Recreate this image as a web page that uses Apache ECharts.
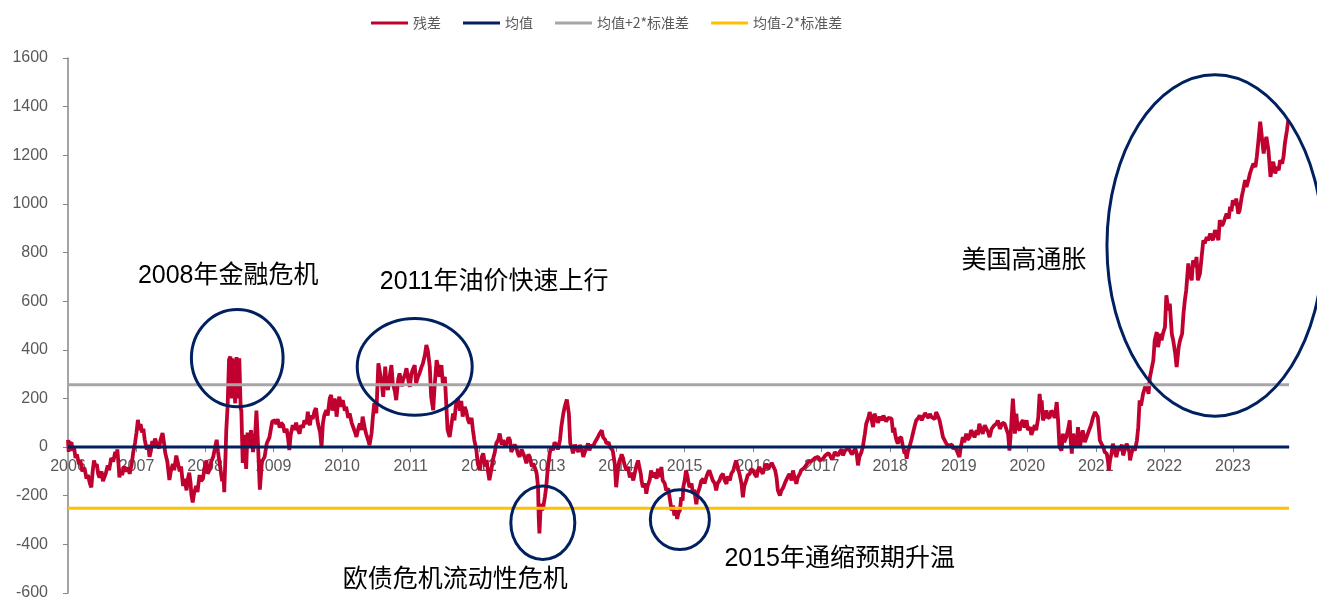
<!DOCTYPE html>
<html>
<head>
<meta charset="utf-8">
<script src="https://cdn.jsdelivr.net/npm/echarts@6/dist/echarts.min.js"></script>
<style>
  html, body { margin: 0; padding: 0; background: #fff; }
  #main { width: 1317px; height: 599px; }
</style>
</head>
<body>
<div id="main"></div>
<script>
// residual series, [decimal year, value]
var resid2006_07 = [
    [2006.00, 30], [2006.01, -20], [2006.02, 25], [2006.03, 10], [2006.05, 20], [2006.07, -15],
    [2006.09, -5], [2006.11, -45], [2006.13, -30], [2006.16, -70], [2006.18, -55], [2006.21, -100],
    [2006.24, -85], [2006.27, -130], [2006.29, -115], [2006.32, -150], [2006.34, -165], [2006.36, -100],
    [2006.38, -55], [2006.40, -80], [2006.42, -70], [2006.44, -110], [2006.46, -125], [2006.49, -100],
    [2006.51, -140], [2006.53, -148], [2006.55, -110], [2006.58, -75], [2006.60, -95], [2006.63, -45],
    [2006.66, -60], [2006.69, -20], [2006.71, -35], [2006.72, -10], [2006.74, -80], [2006.75, -125],
    [2006.77, -95], [2006.79, -115], [2006.82, -80], [2006.85, -100], [2006.88, -85], [2006.90, -110],
    [2006.93, -70], [2006.95, -25], [2006.98, 20], [2007.00, 60], [2007.02, 112], [2007.04, 70],
    [2007.06, 95], [2007.08, 60], [2007.10, 75], [2007.12, 30], [2007.15, -10], [2007.17, 10],
    [2007.19, -40], [2007.21, -15], [2007.23, 25], [2007.25, 5], [2007.27, 35], [2007.30, 10],
    [2007.33, -5], [2007.35, 30], [2007.38, 58], [2007.40, 20], [2007.42, -25], [2007.45, -60],
    [2007.48, -135], [2007.50, -100], [2007.53, -70], [2007.55, -95], [2007.58, -35], [2007.60, -60],
    [2007.63, -100], [2007.65, -80], [2007.68, -160], [2007.70, -130], [2007.73, -178], [2007.75, -130],
    [2007.77, -105], [2007.79, -150], [2007.80, -195], [2007.82, -228], [2007.84, -190], [2007.87, -160],
    [2007.89, -185], [2007.92, -115], [2007.94, -140], [2007.97, -130], [2007.99, -90]
];
var resid2008 = [
    [2008.02, -55], [2008.04, -110], [2008.07, -90], [2008.09, -60], [2008.12, -40], [2008.14, -10],
    [2008.17, 30], [2008.19, -20], [2008.21, -60], [2008.23, -100], [2008.25, -140], [2008.27, -110],
    [2008.28, -185], [2008.30, -25], [2008.31, 70], [2008.33, 170], [2008.35, 360], [2008.37, 372],
    [2008.38, 200], [2008.40, 365], [2008.42, 290], [2008.44, 180], [2008.46, 370], [2008.48, 200],
    [2008.50, 365], [2008.52, 160], [2008.53, 150], [2008.55, -65], [2008.57, 50], [2008.60, -90],
    [2008.62, 60], [2008.65, 0], [2008.67, 70], [2008.70, -20], [2008.73, 40], [2008.75, 150],
    [2008.77, 30], [2008.80, -175], [2008.83, -60], [2008.87, -40], [2008.90, 15], [2008.94, 40],
    [2008.98, 105]
];
var resid2009 = [
    [2009.02, 110], [2009.04, 95], [2009.06, 115], [2009.09, 80], [2009.11, 100], [2009.14, 90],
    [2009.16, 60], [2009.19, 75], [2009.21, 40], [2009.23, -12], [2009.25, 50], [2009.28, 90],
    [2009.30, 70], [2009.33, 100], [2009.35, 75], [2009.38, 55], [2009.40, 90], [2009.43, 80],
    [2009.45, 110], [2009.48, 95], [2009.50, 145], [2009.52, 100], [2009.53, 90], [2009.55, 130],
    [2009.57, 115], [2009.60, 150], [2009.62, 160], [2009.64, 110], [2009.65, 95], [2009.68, 60],
    [2009.70, 0], [2009.72, 97], [2009.74, 130], [2009.77, 152], [2009.79, 130], [2009.82, 200],
    [2009.84, 215], [2009.86, 150], [2009.89, 200], [2009.91, 160], [2009.92, 125], [2009.94, 180],
    [2009.96, 207], [2009.99, 165]
];
var resid2010 = [
    [2010.01, 193], [2010.04, 150], [2010.06, 166], [2010.09, 120], [2010.11, 138], [2010.14, 100],
    [2010.16, 84], [2010.19, 60], [2010.21, 42], [2010.24, 80], [2010.26, 97], [2010.28, 70],
    [2010.30, 125], [2010.33, 80], [2010.35, 56], [2010.38, 30], [2010.40, 8], [2010.43, 56],
    [2010.45, 125], [2010.47, 180], [2010.50, 139], [2010.53, 344], [2010.55, 351], [2010.58, 260],
    [2010.60, 207], [2010.63, 331], [2010.65, 250], [2010.67, 235], [2010.70, 300], [2010.72, 337],
    [2010.74, 262], [2010.77, 230], [2010.79, 193], [2010.82, 280], [2010.84, 303], [2010.87, 250],
    [2010.89, 276], [2010.92, 300], [2010.94, 324], [2010.97, 270], [2010.99, 248]
];
var resid2011 = [
    [2011.01, 300], [2011.03, 317], [2011.06, 337], [2011.08, 262], [2011.11, 290], [2011.13, 303],
    [2011.16, 330], [2011.18, 344], [2011.21, 380], [2011.23, 420], [2011.25, 399], [2011.28, 331],
    [2011.30, 207], [2011.33, 152], [2011.35, 248], [2011.38, 358], [2011.40, 331], [2011.42, 289],
    [2011.45, 337], [2011.47, 262], [2011.50, 289], [2011.52, 180], [2011.54, 70], [2011.57, 42],
    [2011.60, 100], [2011.62, 138], [2011.64, 110], [2011.66, 170], [2011.69, 200], [2011.72, 150],
    [2011.74, 190], [2011.76, 125], [2011.79, 165], [2011.81, 150], [2011.84, 110], [2011.86, 97],
    [2011.89, 120], [2011.91, 70], [2011.93, 29], [2011.96, -12], [2011.98, -67]
];
var resid2012 = [
    [2012.01, -95], [2012.04, -40], [2012.06, -26], [2012.09, -80], [2012.11, -53], [2012.13, -100],
    [2012.15, -136], [2012.18, -90], [2012.20, -53], [2012.23, -20], [2012.25, 15], [2012.28, 30],
    [2012.30, 56], [2012.33, 10], [2012.35, 29], [2012.38, 0], [2012.40, 15], [2012.43, 40],
    [2012.45, 29], [2012.47, -20], [2012.49, -26], [2012.52, 10], [2012.54, 0], [2012.57, -30],
    [2012.59, -40], [2012.62, -10], [2012.64, -13], [2012.67, -45], [2012.69, -67], [2012.72, -30],
    [2012.74, -40], [2012.77, -80], [2012.79, -67], [2012.82, -90], [2012.84, -108], [2012.86, -163],
    [2012.87, -287], [2012.88, -355], [2012.90, -232], [2012.92, -260], [2012.94, -240], [2012.96, -205],
    [2012.98, -163]
];
var resid2013 = [
    [2013.00, -95], [2013.03, -26], [2013.05, 0], [2013.08, -13], [2013.10, 20], [2013.13, 8],
    [2013.15, -10], [2013.18, 29], [2013.20, 84], [2013.23, 140], [2013.25, 166], [2013.28, 196],
    [2013.31, 138], [2013.33, 15], [2013.35, 0], [2013.37, -26], [2013.40, 10], [2013.42, -5],
    [2013.45, -20], [2013.47, 8], [2013.50, -10], [2013.52, -40], [2013.55, -15], [2013.57, 0],
    [2013.59, 15], [2013.61, -13], [2013.64, 10], [2013.66, 0], [2013.69, 20], [2013.71, 29],
    [2013.74, 45], [2013.76, 56], [2013.79, 69], [2013.81, 40], [2013.84, 30], [2013.86, 14],
    [2013.89, 20], [2013.91, 0], [2013.95, -14], [2013.98, -69]
];
var resid2014 = [
    [2014.00, -165], [2014.02, -110], [2014.03, -80], [2014.05, -55], [2014.07, -40], [2014.08, -30],
    [2014.10, -45], [2014.12, -70], [2014.15, -96], [2014.17, -80], [2014.20, -125], [2014.22, -105],
    [2014.25, -137], [2014.27, -110], [2014.29, -82], [2014.32, -55], [2014.34, -85], [2014.36, -110],
    [2014.37, -137], [2014.39, -165], [2014.42, -150], [2014.44, -192], [2014.46, -160], [2014.49, -135],
    [2014.51, -96], [2014.54, -125], [2014.56, -105], [2014.59, -130], [2014.61, -89], [2014.64, -123],
    [2014.66, -82], [2014.68, -137], [2014.71, -150], [2014.73, -178], [2014.76, -170], [2014.78, -206],
    [2014.81, -261], [2014.83, -240], [2014.85, -281], [2014.87, -260], [2014.89, -295], [2014.91, -270],
    [2014.93, -261], [2014.95, -206], [2014.97, -220], [2014.98, -165]
];
var resid2015 = [
    [2015.00, -137], [2015.02, -96], [2015.04, -120], [2015.05, -137], [2015.07, -165], [2015.10, -150],
    [2015.12, -192], [2015.14, -175], [2015.17, -235], [2015.19, -190], [2015.22, -165], [2015.24, -140],
    [2015.27, -130], [2015.29, -150], [2015.32, -120], [2015.34, -105], [2015.36, -96], [2015.39, -120],
    [2015.41, -137], [2015.44, -150], [2015.46, -178], [2015.48, -150], [2015.51, -137], [2015.53, -120],
    [2015.56, -110], [2015.58, -135], [2015.61, -151], [2015.63, -120], [2015.66, -137], [2015.68, -110],
    [2015.71, -96], [2015.73, -75], [2015.75, -55], [2015.78, -90], [2015.80, -110], [2015.83, -150],
    [2015.85, -206], [2015.87, -160], [2015.90, -137], [2015.92, -115], [2015.95, -110], [2015.97, -90]
];
var resid2016 = [
    [2016.00, -96], [2016.02, -110], [2016.05, -123], [2016.07, -95], [2016.09, -82], [2016.12, -100],
    [2016.14, -110], [2016.17, -80], [2016.19, -69], [2016.22, -90], [2016.24, -82], [2016.27, -65],
    [2016.29, -69], [2016.32, -95], [2016.34, -123], [2016.36, -178], [2016.39, -199], [2016.41, -180],
    [2016.44, -165], [2016.46, -150], [2016.48, -137], [2016.51, -120], [2016.53, -110], [2016.56, -137],
    [2016.58, -96], [2016.60, -120], [2016.63, -151], [2016.65, -125], [2016.68, -110], [2016.70, -95],
    [2016.73, -89], [2016.76, -80], [2016.78, -75], [2016.80, -62], [2016.82, -69], [2016.85, -58],
    [2016.87, -55], [2016.90, -45], [2016.92, -48], [2016.95, -40], [2016.97, -55]
];
var resid2017 = [
    [2017.02, -48], [2017.05, -35], [2017.07, -41], [2017.10, -25], [2017.12, -34], [2017.15, -50],
    [2017.17, -41], [2017.19, -20], [2017.21, -27], [2017.24, -35], [2017.26, -21], [2017.29, -10],
    [2017.31, -34], [2017.34, -15], [2017.36, -21], [2017.39, -5], [2017.41, -14], [2017.44, -30],
    [2017.46, -21], [2017.49, -5], [2017.51, -27], [2017.53, -75], [2017.55, -41], [2017.58, -20],
    [2017.60, 0], [2017.63, 55], [2017.65, 96], [2017.68, 120], [2017.70, 144], [2017.73, 110],
    [2017.75, 82], [2017.77, 137], [2017.80, 117], [2017.82, 100], [2017.85, 125], [2017.88, 110],
    [2017.90, 130], [2017.94, 105], [2017.97, 120]
];
var resid2018 = [
    [2018.02, 117], [2018.03, 90], [2018.04, 60], [2018.06, 80], [2018.07, 55], [2018.09, 30],
    [2018.11, 14], [2018.13, 35], [2018.16, 41], [2018.18, 10], [2018.21, -27], [2018.22, -10],
    [2018.24, -48], [2018.26, -15], [2018.28, 0], [2018.31, 30], [2018.33, 55], [2018.36, 90],
    [2018.38, 110], [2018.41, 120], [2018.43, 130], [2018.46, 110], [2018.48, 123], [2018.51, 140],
    [2018.53, 130], [2018.56, 120], [2018.58, 137], [2018.60, 125], [2018.62, 130], [2018.65, 115],
    [2018.67, 144], [2018.70, 125], [2018.72, 110], [2018.75, 70], [2018.77, 41], [2018.80, 25],
    [2018.82, 14], [2018.85, 5], [2018.87, 0], [2018.90, 10], [2018.92, -7], [2018.95, 0],
    [2018.97, -14]
];
var resid2019 = [
    [2019.01, -41], [2019.03, 0], [2019.06, 41], [2019.08, 20], [2019.11, 55], [2019.13, 30],
    [2019.16, 41], [2019.18, 70], [2019.21, 55], [2019.23, 40], [2019.26, 69], [2019.28, 50],
    [2019.30, 96], [2019.33, 69], [2019.35, 55], [2019.38, 90], [2019.40, 82], [2019.43, 60],
    [2019.45, 41], [2019.48, 75], [2019.50, 69], [2019.52, 90], [2019.55, 96], [2019.57, 110],
    [2019.60, 75], [2019.62, 82], [2019.64, 100], [2019.67, 96], [2019.70, 70], [2019.72, 55],
    [2019.74, -14], [2019.76, 60], [2019.77, 110], [2019.79, 199], [2019.81, 120], [2019.82, 55],
    [2019.84, 137], [2019.86, 80], [2019.89, 69], [2019.91, 100], [2019.94, 110], [2019.96, 80],
    [2019.99, 110]
];
var resid2020 = [
    [2020.01, 70], [2020.04, 82], [2020.06, 50], [2020.08, 55], [2020.11, 90], [2020.13, 69],
    [2020.16, 120], [2020.18, 219], [2020.20, 160], [2020.21, 192], [2020.23, 110], [2020.26, 130],
    [2020.28, 151], [2020.30, 120], [2020.33, 123], [2020.35, 150], [2020.38, 137], [2020.40, 120],
    [2020.43, 185], [2020.45, 110], [2020.47, 0], [2020.50, -14], [2020.52, 55], [2020.54, 20],
    [2020.57, 41], [2020.60, 80], [2020.62, 110], [2020.63, 40], [2020.65, -27], [2020.67, 55],
    [2020.70, 20], [2020.72, 0], [2020.74, 82], [2020.76, 30], [2020.77, 0], [2020.79, 40],
    [2020.81, 69], [2020.84, 20], [2020.86, 27], [2020.89, 60], [2020.91, 55], [2020.93, 90],
    [2020.96, 123], [2020.99, 144]
];
var resid2021 = [
    [2021.01, 140], [2021.03, 123], [2021.05, 60], [2021.06, 27], [2021.09, 10], [2021.11, 0],
    [2021.13, -20], [2021.16, -27], [2021.18, -60], [2021.19, -96], [2021.21, -50], [2021.23, -27],
    [2021.25, 14], [2021.28, -20], [2021.30, -41], [2021.33, 0], [2021.35, -14], [2021.38, 10],
    [2021.40, -34], [2021.43, -5], [2021.45, 14], [2021.47, 20], [2021.49, -20], [2021.50, -55],
    [2021.52, -27], [2021.55, 0], [2021.57, -15], [2021.60, 27], [2021.62, 82], [2021.64, 192],
    [2021.66, 170], [2021.69, 219], [2021.72, 247], [2021.74, 260], [2021.77, 219], [2021.79, 288],
    [2021.81, 315], [2021.84, 357], [2021.86, 439], [2021.89, 473], [2021.91, 411], [2021.94, 466],
    [2021.96, 439], [2021.98, 466]
];
var resid2022 = [
    [2022.01, 494], [2022.03, 624], [2022.06, 562], [2022.08, 590], [2022.11, 466], [2022.13, 439],
    [2022.16, 384], [2022.18, 329], [2022.21, 411], [2022.23, 439], [2022.26, 466], [2022.28, 549],
    [2022.30, 604], [2022.32, 645], [2022.35, 755], [2022.37, 713], [2022.40, 686], [2022.42, 768],
    [2022.45, 741], [2022.47, 782], [2022.49, 686], [2022.52, 713], [2022.54, 768], [2022.57, 851],
    [2022.59, 837], [2022.62, 864], [2022.64, 850], [2022.67, 878], [2022.69, 860], [2022.71, 851],
    [2022.74, 892], [2022.76, 878], [2022.79, 851], [2022.81, 933], [2022.84, 910], [2022.86, 919],
    [2022.89, 945], [2022.91, 960], [2022.94, 940], [2022.96, 988], [2022.98, 970]
];
var resid2023 = [
    [2023.00, 1015], [2023.03, 995], [2023.05, 1022], [2023.08, 960], [2023.10, 974], [2023.13, 1029],
    [2023.15, 1056], [2023.18, 1098], [2023.20, 1070], [2023.23, 1100], [2023.25, 1125], [2023.28, 1150],
    [2023.30, 1166], [2023.33, 1152], [2023.35, 1194], [2023.37, 1249], [2023.40, 1338], [2023.42, 1345],
    [2023.45, 1207], [2023.47, 1249], [2023.49, 1276], [2023.52, 1221], [2023.55, 1111], [2023.57, 1152],
    [2023.59, 1173], [2023.62, 1125], [2023.64, 1152], [2023.67, 1138], [2023.69, 1180], [2023.72, 1166],
    [2023.74, 1194], [2023.76, 1249], [2023.79, 1303], [2023.81, 1345]
];

var meanValue = 0;
var upperBand = 256;     // 均值+2*标准差
var lowerBand = -252;    // 均值-2*标准差
var startYear = 2006;
var endYear = 2023.82;
var yMin = -600;
var yMax = 1600;
var yearTicks = [2006, 2007, 2008, 2009, 2010, 2011, 2012, 2013, 2014, 2015, 2016, 2017, 2018, 2019, 2020, 2021, 2022, 2023];
var seriesNames = ['残差', '均值', '均值+2*标准差', '均值-2*标准差'];

// annotations (data coords): ellipse centre + half sizes, and labels
var rings = [
    {x: 2008.47, y: 366, rx: 0.669, ry: 200},
    {x: 2011.06, y: 330, rx: 0.839, ry: 199},
    {x: 2012.93, y: -311, rx: 0.467, ry: 151},
    {x: 2014.93, y: -298, rx: 0.431, ry: 123},
    {x: 2022.74, y: 829, rx: 1.577, ry: 702}
];
var notes = [
    {x: 2007.02, y: 704, text: '2008年金融危机'},
    {x: 2010.55, y: 680, text: '2011年油价快速上行'},
    {x: 2010.01, y: -547, text: '欧债危机流动性危机'},
    {x: 2015.58, y: -461, text: '2015年通缩预期升温'},
    {x: 2019.04, y: 765, text: '美国高通胀'}
];

var residual = [].concat(resid2006_07, resid2008, resid2009, resid2010, resid2011, resid2012,
    resid2013, resid2014, resid2015, resid2016, resid2017, resid2018, resid2019, resid2020,
    resid2021, resid2022, resid2023);

function flat(v) {
    return [[startYear, v], [endYear, v]];
}

var fontMain = '"Liberation Sans", Arial, "Noto Sans CJK SC", sans-serif';

var option = {
    animation: false,
    backgroundColor: '#fff',
    legend: {
        left: 366,
        top: 11,
        icon: 'rect',
        itemWidth: 37,
        itemHeight: 3,
        itemGap: 22,
        textStyle: {color: '#595959', fontSize: 14, fontFamily: '"Noto Sans CJK SC", serif'},
        data: seriesNames
    },
    grid: {left: 68, right: 28, top: 58, bottom: 6, containLabel: false, outerBoundsMode: 'none'},
    xAxis: {
        type: 'value',
        min: startYear,
        max: endYear,
        position: 'bottom',
        offset: 0,
        z: 0,
        axisLine: {onZero: false, lineStyle: {color: '#868686', width: 1.5}},
        axisTick: {show: true, length: 5, customValues: yearTicks, lineStyle: {color: '#868686'}},
        axisLabel: {
            customValues: yearTicks,
            margin: 12,
            color: '#595959',
            fontSize: 16,
            fontFamily: fontMain,
            formatter: function (v) { return String(Math.round(v)); }
        },
        splitLine: {show: false}
    },
    yAxis: {
        type: 'value',
        min: yMin,
        max: yMax,
        interval: 200,
        axisLine: {show: true, onZero: false, lineStyle: {color: '#868686', width: 1.5}},
        axisTick: {show: true, length: 5, lineStyle: {color: '#868686'}},
        axisLabel: {
            color: '#595959', fontSize: 16, fontFamily: fontMain, margin: 20,
            formatter: function (v) { return String(v); }
        },
        splitLine: {show: false}
    },
    series: [
        {
            name: seriesNames[0], type: 'line', data: residual, symbol: 'none', zlevel: 1,
            lineStyle: {color: '#C0002F', width: 3.8}, itemStyle: {color: '#C0002F'}, z: 2
        },
        {
            name: seriesNames[1], type: 'line', data: flat(meanValue), symbol: 'none', zlevel: 1,
            lineStyle: {color: '#002060', width: 3}, itemStyle: {color: '#002060'}, z: 3
        },
        {
            name: seriesNames[2], type: 'line', data: flat(upperBand), symbol: 'none', zlevel: 1,
            lineStyle: {color: '#A6A6A6', width: 3}, itemStyle: {color: '#A6A6A6'}, z: 3
        },
        {
            name: seriesNames[3], type: 'line', data: flat(lowerBand), symbol: 'none', zlevel: 1,
            lineStyle: {color: '#FFC000', width: 3}, itemStyle: {color: '#FFC000'}, z: 3
        }
    ]
};

var chart = echarts.init(document.getElementById('main'));
chart.setOption(option);

// move the x axis up so that it sits on the value 0
var zeroPx = chart.convertToPixel({yAxisIndex: 0}, 0);
var bottomPx = chart.convertToPixel({yAxisIndex: 0}, yMin);
chart.setOption({xAxis: {offset: zeroPx - bottomPx}});

// place the rings and notes through the grid's own scales
var shapes = [];
rings.forEach(function (r) {
    var c = chart.convertToPixel({gridIndex: 0}, [r.x, r.y]);
    var e = chart.convertToPixel({gridIndex: 0}, [r.x + r.rx, r.y + r.ry]);
    shapes.push({
        type: 'ellipse',
        zlevel: 1,
        z: 100,
        shape: {cx: c[0], cy: c[1], rx: Math.abs(e[0] - c[0]), ry: Math.abs(c[1] - e[1])},
        style: {fill: 'none', stroke: '#002060', lineWidth: 3}
    });
});
notes.forEach(function (n) {
    var p = chart.convertToPixel({gridIndex: 0}, [n.x, n.y]);
    shapes.push({
        type: 'text',
        zlevel: 1,
        z: 100,
        style: {
            x: p[0], y: p[1], text: n.text, fill: '#000',
            fontSize: 25, fontFamily: fontMain,
            align: 'left', verticalAlign: 'middle'
        }
    });
});
chart.setOption({graphic: shapes});
</script>
</body>
</html>
